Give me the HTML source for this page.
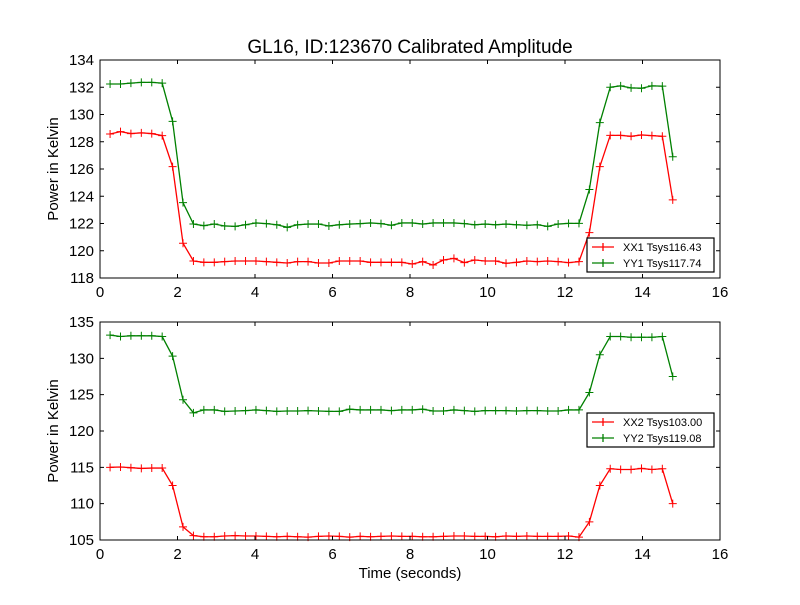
<!DOCTYPE html>
<html><head><meta charset="utf-8"><style>
body{margin:0;background:#fff}
svg text{font-family:"Liberation Sans","DejaVu Sans",sans-serif}
</style></head><body>
<svg id="chart" width="800" height="600" xmlns="http://www.w3.org/2000/svg">
<rect width="800" height="600" fill="#fff"/>
<text x="410" y="53" font-size="19" text-anchor="middle">GL16, ID:123670 Calibrated Amplitude</text>
<g id="top"></g>
<g id="bot"></g>
<text x="410" y="578" font-size="15" text-anchor="middle">Time (seconds)</text>
</svg>
<script>
const xx1 = [128.57,128.74,128.6,128.65,128.6,128.45,126.17,120.55,119.25,119.15,119.15,119.2,119.25,119.25,119.25,119.2,119.15,119.1,119.2,119.2,119.1,119.1,119.25,119.25,119.25,119.15,119.15,119.15,119.15,119.03,119.2,118.95,119.32,119.44,119.13,119.32,119.25,119.25,119.08,119.15,119.25,119.2,119.25,119.2,119.13,119.2,121.33,126.17,128.47,128.47,128.4,128.5,128.45,128.4,123.73];
const yy1 = [132.24,132.24,132.3,132.36,132.36,132.3,129.5,123.53,121.96,121.84,121.96,121.82,121.79,121.91,122.04,121.99,121.91,121.72,121.91,121.96,121.96,121.82,121.91,121.96,121.99,122.04,121.99,121.87,122.04,122.04,121.96,122.04,122.04,122.04,121.99,121.91,121.96,121.91,121.96,121.91,121.87,121.91,121.79,121.96,122.01,122.01,124.5,129.4,132.0,132.1,131.95,131.93,132.1,132.08,126.9];
const xx2 = [115.0,115.05,114.95,114.85,114.9,114.9,112.5,106.8,105.6,105.45,105.45,105.55,105.6,105.55,105.55,105.5,105.45,105.5,105.45,105.4,105.5,105.55,105.5,105.4,105.5,105.45,105.5,105.55,105.5,105.5,105.45,105.45,105.5,105.55,105.55,105.5,105.5,105.45,105.55,105.5,105.55,105.5,105.5,105.5,105.55,105.4,107.5,112.5,114.8,114.7,114.7,114.85,114.7,114.8,110.0];
const yy2 = [133.2,133.0,133.1,133.1,133.1,133.0,130.3,124.3,122.5,122.9,122.9,122.7,122.75,122.8,122.9,122.8,122.7,122.75,122.75,122.8,122.75,122.7,122.7,123.0,122.9,122.9,122.9,122.8,122.9,122.9,123.0,122.75,122.75,122.9,122.8,122.7,122.8,122.8,122.8,122.75,122.8,122.8,122.75,122.75,122.9,122.9,125.3,130.5,133.0,133.0,132.9,132.9,132.9,133.0,127.5];
const t0 = 0.26, dt = 0.2689;
const xTicks = [0,2,4,6,8,10,12,14,16];
const yTicksTop = [118,120,122,124,126,128,130,132,134];
const yTicksBot = [105,110,115,120,125,130,135];
const NS='http://www.w3.org/2000/svg';
function mk(p,tag,attrs){const e=document.createElementNS(NS,tag);for(const k in attrs)e.setAttribute(k,attrs[k]);p.appendChild(e);return e;}
function panel(g,top,bottom,ymin,ymax,yTicks,series,legend,ly){
  const L=100,R=720;
  const sx=v=>L+(v-0)/(16-0)*(R-L);
  const sy=v=>bottom-(v-ymin)/(ymax-ymin)*(bottom-top);
  series.forEach(s=>{
    const pts=s.data.map((v,i)=>[sx(t0+i*dt),sy(v)]);
    const pl=mk(g,'polyline',{points:pts.map(p=>p.join(',')).join(' '),fill:'none',stroke:s.color,'stroke-width':1.3});
    
    
    pts.forEach(p=>{
      const m=mk(g,'path',{d:`M${p[0]-4},${p[1]}h8M${p[0]},${p[1]-4}v8`,stroke:s.color,'stroke-width':1});
      
      
    });
  });
  const fr=mk(g,'rect',{x:L,y:top,width:R-L,height:bottom-top,fill:'none',stroke:'#000','stroke-width':1});
  
  
  xTicks.forEach(v=>{
    const x=sx(v);
    mk(g,'path',{d:`M${x},${bottom}v-4M${x},${top}v4`,stroke:'#000'});
    const t=mk(g,'text',{x:x,y:bottom+19,'font-size':15,'text-anchor':'middle'});t.textContent=v;
    
    
  });
  yTicks.forEach(v=>{
    const y=sy(v);
    mk(g,'path',{d:`M${L},${y}h4M${R},${y}h-4`,stroke:'#000'});
    const t=mk(g,'text',{x:L-6,y:y+5,'font-size':15,'text-anchor':'end'});t.textContent=v;
    
    
  });
  const yl=mk(g,'text',{x:0,y:0,'font-size':15,'text-anchor':'middle',transform:`translate(58,${(top+bottom)/2}) rotate(-90)`});
  yl.textContent='Power in Kelvin';
  
  
  const lg=mk(g,'g',{});
  
  
  mk(lg,'rect',{x:587,y:ly,width:127,height:34,fill:'#fff',stroke:'#000','stroke-width':1.2});
  legend.forEach((s,i)=>{
    const y=ly+9+i*16;
    mk(lg,'path',{d:`M592,${y}h22M603,${y-4}v8`,stroke:s.color,'stroke-width':1.3});
    const t=mk(lg,'text',{x:623,y:y+4,'font-size':11});t.textContent=s.label;
    
    
  });
}
panel(document.getElementById('top'),60,278,118,134,yTicksTop,
 [{name:'xx1',data:xx1,color:'#ff0000'},{name:'yy1',data:yy1,color:'#008000'}],
 [{label:'XX1 Tsys116.43',color:'#ff0000'},{label:'YY1 Tsys117.74',color:'#008000'}],238);
panel(document.getElementById('bot'),322,540,105,135,yTicksBot,
 [{name:'xx2',data:xx2,color:'#ff0000'},{name:'yy2',data:yy2,color:'#008000'}],
 [{label:'XX2 Tsys103.00',color:'#ff0000'},{label:'YY2 Tsys119.08',color:'#008000'}],413);
</script>
</body></html>
